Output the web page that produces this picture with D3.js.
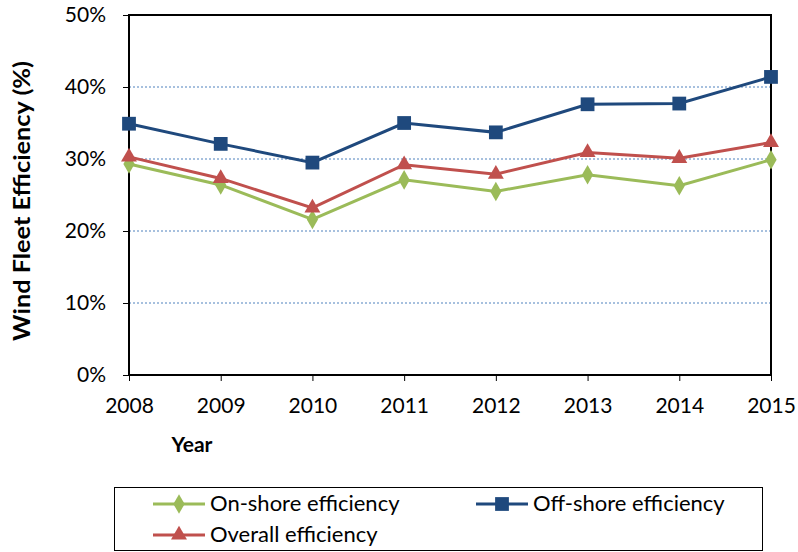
<!DOCTYPE html>
<html lang="en">
<head>
<meta charset="UTF-8">
<title>Wind Fleet Efficiency</title>
<style>
  body { margin: 0; background: #fff; }
  text { font-family: Lato, "Open Sans", sans-serif; }
</style>
</head>
<body>
<script src="https://d3js.org/d3.v7.min.js"></script>
<script>
// data (percent)
const years = [2008, 2009, 2010, 2011, 2012, 2013, 2014, 2015];
const onshore  = [29.3, 26.4, 21.6, 27.1, 25.5, 27.8, 26.3, 29.9];
const offshore = [34.9, 32.1, 29.5, 35.0, 33.7, 37.6, 37.7, 41.4];
const overall  = [30.3, 27.3, 23.2, 29.2, 27.9, 30.9, 30.1, 32.3];
const yTicks = [0, 10, 20, 30, 40, 50];

const series = [
  { name: "On-shore efficiency", values: onshore, color: "#9BBB59", shape: d3.symbolDiamond, size: 110 },
  { name: "Off-shore efficiency", values: offshore, color: "#1F497D", shape: d3.symbolSquare, size: 190 },
  { name: "Overall efficiency", values: overall, color: "#C0504D", shape: d3.symbolTriangle, size: 110 }
];

const W = 798, H = 552;
const m = { left: 129, right: 771, top: 15, bottom: 375 };

const svg = d3.select("body").append("svg")
  .attr("width", W)
  .attr("height", H);

const x = d3.scalePoint().domain(years).range([m.left, m.right]);
const y = d3.scaleLinear().domain([0, 50]).range([m.bottom, m.top]);

// gridlines
svg.append("g")
  .selectAll("line")
  .data(yTicks.filter(d => d > 0 && d < 50))
  .join("line")
  .attr("x1", m.left).attr("x2", m.right)
  .attr("y1", d => y(d)).attr("y2", d => y(d))
  .attr("stroke", "#4F81BD")
  .attr("stroke-width", 1)
  .attr("stroke-dasharray", "2,2");

// plot frame
svg.append("rect")
  .attr("x", m.left).attr("y", m.top)
  .attr("width", m.right - m.left).attr("height", m.bottom - m.top)
  .attr("fill", "none")
  .attr("stroke", "#000")
  .attr("stroke-width", 2);

// y axis
const yAxis = svg.append("g")
  .attr("transform", `translate(${m.left},0)`)
  .call(d3.axisLeft(y).tickValues(yTicks).tickFormat(d => d + "%").tickSize(6).tickPadding(17));
yAxis.select(".domain").remove();
yAxis.selectAll("text").attr("font-size", 21).attr("fill", "#000");

// x axis
const xAxis = svg.append("g")
  .attr("transform", `translate(0,${m.bottom})`)
  .call(d3.axisBottom(x).tickSize(6).tickPadding(17));
xAxis.select(".domain").remove();
xAxis.selectAll("text").attr("font-size", 21).attr("fill", "#000");

// axis titles
svg.append("text")
  .attr("x", 192).attr("y", 452)
  .attr("text-anchor", "middle")
  .attr("font-size", 21).attr("font-weight", "bold")
  .text("Year");

svg.append("text")
  .attr("transform", "translate(30,201) rotate(-90)")
  .attr("text-anchor", "middle")
  .attr("font-size", 22).attr("font-weight", "bold")
  .attr("textLength", 280).attr("lengthAdjust", "spacingAndGlyphs")
  .text("Wind Fleet Efficiency (%)");

// lines and markers
const line = d3.line().x((d, i) => x(years[i])).y(d => y(d));

series.forEach(s => {
  svg.append("path")
    .datum(s.values)
    .attr("d", line)
    .attr("fill", "none")
    .attr("stroke", s.color)
    .attr("stroke-width", 3);

  svg.append("g")
    .selectAll("path")
    .data(s.values)
    .join("path")
    .attr("transform", (d, i) => `translate(${x(years[i])},${y(d)})`)
    .attr("d", d3.symbol().type(s.shape).size(s.size))
    .attr("fill", s.color);
});

// legend
svg.append("rect")
  .attr("x", 114.5).attr("y", 487.5)
  .attr("width", 648).attr("height", 63)
  .attr("fill", "#fff")
  .attr("stroke", "#000")
  .attr("stroke-width", 1);

const legendPos = [[153, 504], [476, 504], [153, 535]];
series.forEach((s, i) => {
  const [lx, ly] = legendPos[i];
  const g = svg.append("g").attr("transform", `translate(${lx},${ly})`);
  g.append("line")
    .attr("x1", 0).attr("x2", 52)
    .attr("stroke", s.color).attr("stroke-width", 3);
  g.append("path")
    .attr("transform", "translate(26,0)")
    .attr("d", d3.symbol().type(s.shape).size(s.size))
    .attr("fill", s.color);
  g.append("text")
    .attr("x", 57).attr("y", 7)
    .attr("font-size", 22)
    .text(s.name);
});
</script>
</body>
</html>
